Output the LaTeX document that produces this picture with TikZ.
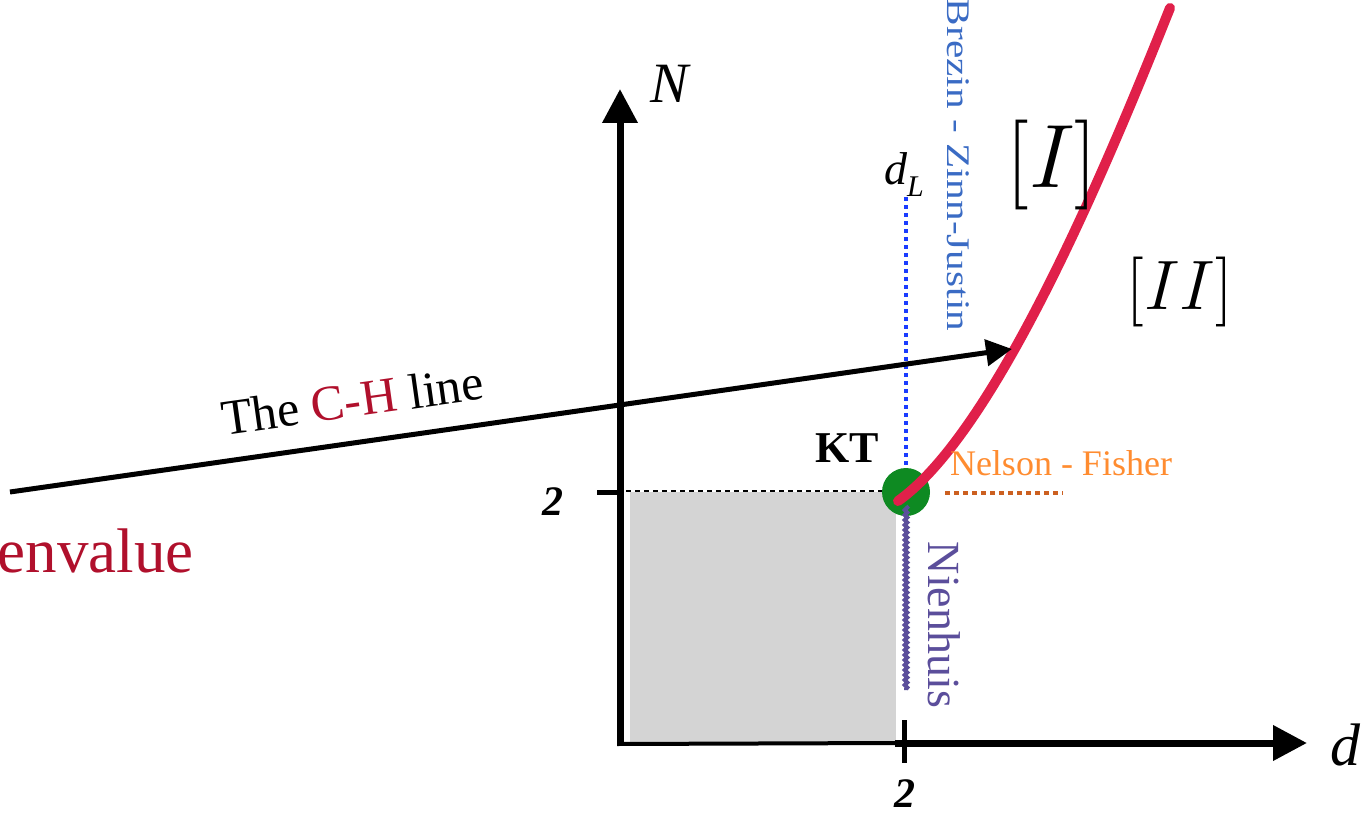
\RequirePackage{fix-cm}
\documentclass[tikz,border=0pt]{standalone}
\usepackage{fontspec}
\setmainfont{Liberation Serif}
\usetikzlibrary{arrows.meta,decorations.pathmorphing}
\definecolor{crimson}{HTML}{B0102C}
\definecolor{bluedot}{HTML}{1A3CFF}
\definecolor{bzblue}{HTML}{3A6BC4}
\definecolor{ktgreen}{HTML}{0E8A22}
\definecolor{curvered}{HTML}{E0204A}
\definecolor{nhpurple}{HTML}{5B4E9B}
\definecolor{nforange}{HTML}{FF8C30}
\definecolor{nfdot}{HTML}{CC6020}
\definecolor{greyfill}{HTML}{D4D4D4}
\newcommand\fsz[1]{\fontsize{#1}{#1}\selectfont}
\begin{document}
\begin{tikzpicture}[x=1pt,y=-1pt,
  axisline/.style={line width=7pt,-{Triangle[length=34pt,width=34pt]}},
  tickline/.style={line width=5pt},
  chline/.style={line width=5pt,-{Triangle[length=26pt,width=26pt]}},
  lbl/.style={inner sep=0pt,outer sep=0pt},
]
\useasboundingbox (0,0) rectangle (1367,821);
% grey region
\fill[greyfill] (630,492) rectangle (896,744);
% coordinates
\coordinate (O) at (620,745);
\coordinate (Ntip) at (620,89);
\coordinate (Bl) at (617,744);
\coordinate (Dstart) at (895,743);
\coordinate (Dtip) at (1307,743);
\coordinate (tx1) at (904,720);
\coordinate (tx2) at (904,763);
\coordinate (ty1) at (597,492);
\coordinate (ty2) at (621,492);
\coordinate (dsh1) at (626,491);
\coordinate (dsh2) at (893,491);
\coordinate (bz1) at (906,197);
\coordinate (bz2) at (906,478);
\coordinate (nf1) at (945,493);
\coordinate (nf2) at (1063,493);
\coordinate (nh1) at (906,506);
\coordinate (nh2) at (906,690);
\coordinate (chs) at (10,492);
\coordinate (che) at (1012,349);
\coordinate (rc1) at (898,501);
\coordinate (rc2) at (1170,8);
% axes
\draw[line width=4pt] (Bl) -- (Dstart);
\draw[axisline] (O) -- (Ntip);
\draw[axisline] (Dstart) -- (Dtip);
\draw[tickline] (tx1) -- (tx2);
\draw[tickline] (ty1) -- (ty2);
% dashed level line
\draw[line width=1.5pt,dash pattern=on 5pt off 4pt] (dsh1) -- (dsh2);
% Brezin-Zinn-Justin dotted line
\draw[bluedot,line width=4pt,dash pattern=on 4pt off 4pt] (bz1) -- (bz2);
% Nelson-Fisher dotted line
\draw[nfdot,line width=4pt,dash pattern=on 5pt off 4pt] (nf1) -- (nf2);
% KT point
\node[circle,fill=ktgreen,minimum size=48pt,inner sep=0pt] (kt) at (906,492) {};
% red curve
\draw[curvered,line width=10pt,line cap=round] (rc1) .. controls (998,430) and (1110,158) .. (rc2);
% Nienhuis wavy line
\draw[nhpurple,line width=4pt,decorate,decoration={snake,amplitude=1.3pt,segment length=5pt}] (nh1) -- (nh2);
% C-H line
\draw[chline] (chs) -- (che);
% labels
\node[lbl,anchor=base west] (Nlab) at (650,103) {\fsz{57}\itshape N};
\node[lbl,anchor=base west] (dlab) at (1330,765) {\fsz{60}\itshape d};
\node[lbl,anchor=base] (two1) at (905,807) {\fsz{42}\bfseries\itshape 2};
\node[lbl,anchor=base] (two2) at (553,515) {\fsz{42}\bfseries\itshape 2};
\node[lbl,anchor=base west] (dL) at (884,185) {\fsz{46}\itshape d\raisebox{-0.25em}{\fsz{30}L}};
\node[lbl,rotate=-90] (bzlab) at (958,165) {\fsz{33}\color{bzblue}\scalebox{1.25}[1]{Brezin - Zinn-Justin}};
\node[lbl,anchor=base west] (nflab) at (950,475) {\fsz{36}\color{nforange}Nelson - Fisher};
\node[lbl,rotate=-90] (nhlab) at (944,625) {\fsz{46}\color{nhpurple}Nienhuis};
\node[lbl,anchor=base] (ktlab) at (847,462) {\fsz{44}\bfseries KT};
\node[lbl] (reg1) at (1052,165) {\fsz{90}$[I]$};
\node[lbl] (reg2) at (1180,292) {\fsz{70}$[II]$};
\node[lbl,anchor=base,rotate=8] (chlab) at (355,417) {\fsz{50}The \textcolor{crimson}{C-H} line};
\node[lbl,anchor=base west] (eig) at (-2,572) {\fsz{63}\color{crimson}envalue};
\end{tikzpicture}
\end{document}
